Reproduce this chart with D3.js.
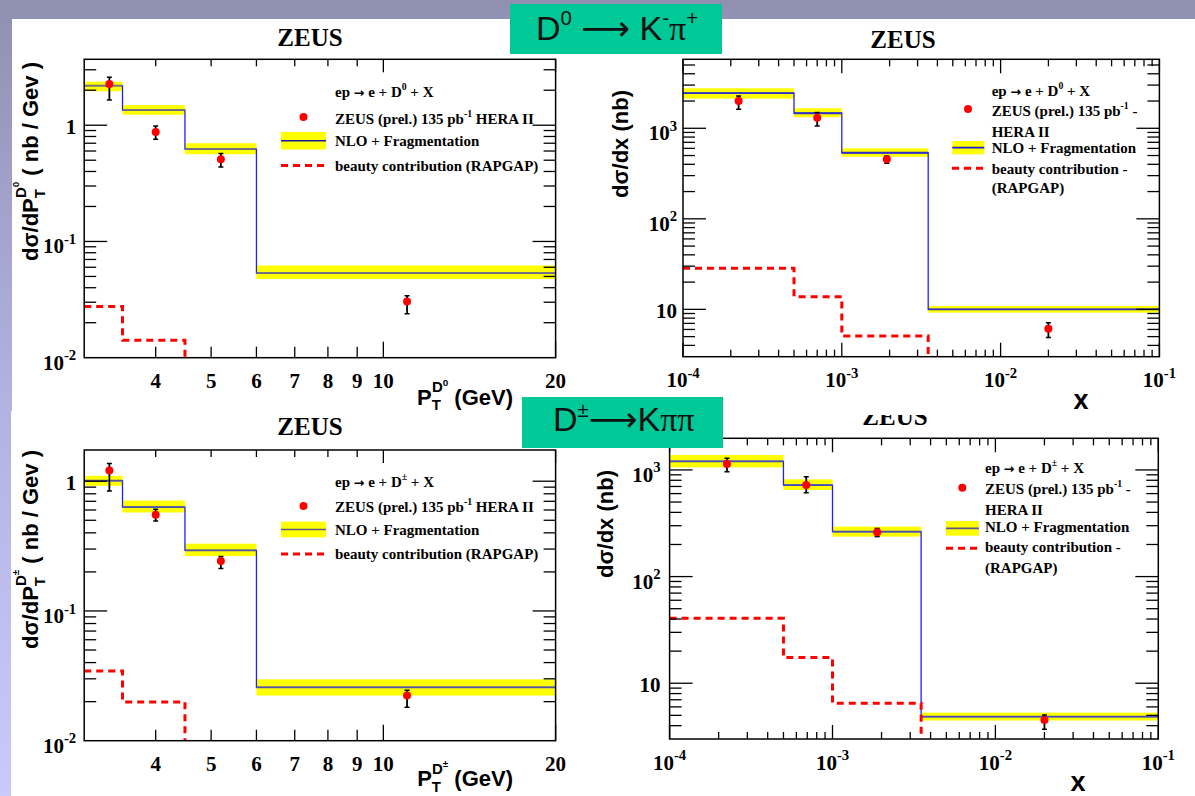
<!DOCTYPE html>
<html>
<head>
<meta charset="utf-8">
<script src="https://cdn.jsdelivr.net/npm/d3@7"></script>
<style>
  html, body { margin: 0; padding: 0; background: #ffffff; }
  svg { display: block; }
</style>
</head>
<body>
<svg id="chart" width="1195" height="796"></svg>
<script>
// ---------------- data ----------------
// bin edges
const ptEdges = [3, 3.5, 4.5, 6, 20];
const xEdges = [1e-4, 5e-4, 1e-3, 3.5e-3, 1e-1];

// tick labels
const ptTickValues = [4, 5, 6, 7, 8, 9, 10, 20];
const xDecadeExponents = [-4, -3, -2, -1];

// D0 -> K- pi+, d sigma / d pT  (nb/GeV)
const d0PtNlo    = [2.19, 1.35, 0.622, 0.0535];
const d0PtNloLo  = [1.96, 1.23, 0.563, 0.0475];
const d0PtNloHi  = [2.37, 1.49, 0.700, 0.0621];
const d0PtBeauty = [0.0276, 0.0141, 0.006, 0.0015];
const d0PtDataX  = [3.32, 4.0, 5.2, 11.0];
const d0PtData   = [2.26, 0.876, 0.510, 0.0305];
const d0PtDataLo = [1.65, 0.758, 0.436, 0.0239];
const d0PtDataHi = [2.59, 0.986, 0.570, 0.0341];

// D0 -> K- pi+, d sigma / dx  (nb)
const d0XNlo    = [2440, 1466, 537, 10.0];
const d0XNloLo  = [2124, 1325, 485, 9.2];
const d0XNloHi  = [2767, 1664, 601, 10.9];
const d0XBeauty = [28.4, 13.8, 5.07, 1.5];
const d0XDataX  = [2.24e-4, 7.0e-4, 1.92e-3, 2.0e-2];
const d0XData   = [2005, 1310, 454, 6.1];
const d0XDataLo = [1620, 1060, 410, 4.9];
const d0XDataHi = [2270, 1490, 494, 7.1];

// D+- -> K pi pi, d sigma / d pT  (nb/GeV)
const dchPtNlo    = [1.01, 0.631, 0.293, 0.0258];
const dchPtNloLo  = [0.922, 0.574, 0.265, 0.0223];
const dchPtNloHi  = [1.10, 0.710, 0.330, 0.0297];
const dchPtBeauty = [0.0345, 0.0199, 0.006, 0.0015];
const dchPtDataX  = [3.32, 4.0, 5.2, 11.0];
const dchPtData   = [1.21, 0.552, 0.243, 0.0223];
const dchPtDataLo = [0.84, 0.493, 0.212, 0.0181];
const dchPtDataHi = [1.37, 0.609, 0.263, 0.0245];

// D+- -> K pi pi, d sigma / dx  (nb)
const dchXNlo    = [1205, 721, 264, 4.87];
const dchXNloLo  = [1057, 649, 237, 4.47];
const dchXNloHi  = [1380, 816, 294, 5.30];
const dchXBeauty = [40.6, 17.4, 6.5, 1.5];
const dchXDataX  = [2.25e-4, 6.9e-4, 1.88e-3, 2.0e-2];
const dchXData   = [1135, 721, 260, 4.53];
const dchXDataLo = [962, 611, 237, 3.71];
const dchXDataHi = [1285, 863, 283, 5.05];

// ---------------- styles ----------------
const SERIF = "'Liberation Serif', 'Times New Roman', serif";
const SANS = "'Liberation Sans', Arial, 'DejaVu Sans', sans-serif";
const ARROWFONT = "'DejaVu Sans', sans-serif";
const BAND = "#ffff00";
const BLUE = "#1f1fff";
const RED = "#ff0000";
const TICK_FONT = 21;
const LEGEND_FONT = 15;

const svg = d3.select("#chart");
const defs = svg.append("defs");

// rich text: parts are {t, s (raise in em), k (size factor), dx, f (font)}
function rich(textSel, parts, size) {
  let cur = 0;
  parts.forEach(p => {
    const target = -(p.s || 0) * size;
    const ts = textSel.append("tspan")
      .attr("dy", target - cur)
      .attr("font-size", size * (p.k || 1))
      .text(p.t);
    if (p.dx) ts.attr("dx", p.dx);
    if (p.f) ts.attr("font-family", p.f);
    cur = target;
  });
  return textSel;
}

// ---------------- background ----------------
const grad = defs.append("linearGradient").attr("id", "bgGrad")
  .attr("x1", 0).attr("y1", 0).attr("x2", 0).attr("y2", 1);
grad.append("stop").attr("offset", 0).attr("stop-color", "#9090b2");
grad.append("stop").attr("offset", 0.5).attr("stop-color", "#b2b2e2");
grad.append("stop").attr("offset", 1).attr("stop-color", "#c9c9fa");
svg.append("rect").attr("width", 1195).attr("height", 796).attr("fill", "url(#bgGrad)");

svg.append("rect").attr("x", 12).attr("y", 19).attr("width", 1183).attr("height", 392).attr("fill", "#fff");
svg.append("rect").attr("x", 11).attr("y", 411).attr("width", 1184).attr("height", 385).attr("fill", "#fff");

// ---------------- panel drawing ----------------
let clipCount = 0;

function drawPanel(p) {
  const g = svg.append("g");
  const xs = d3.scaleLog().domain(p.xDomain).range([p.l, p.r]);
  const ys = d3.scaleLog().domain(p.yDomain).range([p.b, p.t]);

  const clipId = "clip" + (clipCount++);
  defs.append("clipPath").attr("id", clipId).append("rect")
    .attr("x", p.l).attr("y", p.t).attr("width", p.r - p.l).attr("height", p.b - p.t);

  // title
  g.append("text").attr("x", p.titleX).attr("y", p.titleY)
    .attr("text-anchor", "middle").attr("font-family", SERIF).attr("font-weight", "bold")
    .attr("font-size", 25).text("ZEUS");

  const plot = g.append("g").attr("clip-path", `url(#${clipId})`);
  const bins = p.nlo.map((v, i) => ({ i, v, lo: p.nloLo[i], hi: p.nloHi[i] }));

  // uncertainty band of NLO prediction
  plot.selectAll("rect.band").data(bins).join("rect")
    .attr("x", d => xs(p.edges[d.i]))
    .attr("width", d => xs(p.edges[d.i + 1]) - xs(p.edges[d.i]))
    .attr("y", d => ys(d.hi))
    .attr("height", d => ys(d.lo) - ys(d.hi))
    .attr("fill", BAND);

  const step = d3.line().x(d => xs(d[0])).y(d => ys(d[1])).curve(d3.curveStepAfter);
  const stepPts = vals => p.edges.map((e, i) => [e, vals[Math.min(i, vals.length - 1)]]);

  // NLO histogram
  plot.append("path").attr("d", step(stepPts(p.nlo)))
    .attr("fill", "none").attr("stroke", BLUE).attr("stroke-width", 1.3);
  plot.selectAll("line.nloh").data(bins).join("line")
    .attr("x1", d => xs(p.edges[d.i])).attr("x2", d => xs(p.edges[d.i + 1]))
    .attr("y1", d => ys(d.v)).attr("y2", d => ys(d.v))
    .attr("stroke", p.hColor).attr("stroke-width", 1.8);

  // beauty contribution
  plot.append("path").attr("d", step(stepPts(p.beauty)))
    .attr("fill", "none").attr("stroke", RED).attr("stroke-width", 3)
    .attr("stroke-dasharray", "7,5");

  // data points
  const pts = p.dataX.map((x, i) => ({ x, y: p.data[i], lo: p.dataLo[i], hi: p.dataHi[i] }));
  plot.selectAll("line.err").data(pts).join("line")
    .attr("x1", d => xs(d.x)).attr("x2", d => xs(d.x))
    .attr("y1", d => ys(d.hi)).attr("y2", d => ys(d.lo))
    .attr("stroke", "#000").attr("stroke-width", 1.8);
  ["hi", "lo"].forEach(k => {
    plot.selectAll("line.cap" + k).data(pts).join("line")
      .attr("x1", d => xs(d.x) - 2.5).attr("x2", d => xs(d.x) + 2.5)
      .attr("y1", d => ys(d[k])).attr("y2", d => ys(d[k]))
      .attr("stroke", "#000").attr("stroke-width", 1.5);
  });
  plot.selectAll("circle.pt").data(pts).join("circle")
    .attr("cx", d => xs(d.x)).attr("cy", d => ys(d.y)).attr("r", 4).attr("fill", RED);

  // frame
  g.append("rect").attr("x", p.l).attr("y", p.t).attr("width", p.r - p.l).attr("height", p.b - p.t)
    .attr("fill", "none").attr("stroke", "#000").attr("stroke-width", 1.5);

  // y ticks (log decades with 2..9 subdivisions)
  const yt = [];
  const [y0, y1] = p.yDomain;
  for (let d = Math.floor(Math.log10(y0)); d <= Math.ceil(Math.log10(y1)); d++) {
    for (let k = 1; k <= 9; k++) {
      const v = k * Math.pow(10, d);
      if (v > y0 * 1.001 && v < y1 * 0.999) yt.push({ v, major: k === 1, d });
    }
  }
  const tg = g.append("g").attr("stroke", "#000").attr("stroke-width", 1.3);
  yt.forEach(t => {
    const len = t.major ? 23 : 12;
    tg.append("line").attr("x1", p.l).attr("x2", p.l + len).attr("y1", ys(t.v)).attr("y2", ys(t.v));
    tg.append("line").attr("x1", p.r).attr("x2", p.r - len).attr("y1", ys(t.v)).attr("y2", ys(t.v));
  });

  // y tick labels at decades
  const yDec = d3.range(Math.ceil(Math.log10(y0) - 1e-9), Math.floor(Math.log10(y1) + 1e-9) + 1);
  yDec.forEach(d => {
    const v = Math.pow(10, d);
    const plain = d === 0 || d === 1;
    const t = g.append("text").attr("x", p.l - p.yLabelGap)
      .attr("y", ys(v) + (plain ? 8.5 : 12))
      .attr("text-anchor", "end").attr("font-family", SERIF).attr("font-weight", "bold");
    if (plain) rich(t, [{ t: d === 0 ? "1" : "10" }], TICK_FONT);
    else rich(t, [{ t: "10" }, { t: String(d), s: 0.45, k: 0.7 }], TICK_FONT);
  });

  // x ticks and labels
  const xt = [];
  if (p.xKind === "pt") {
    ptTickValues.forEach(v => xt.push({ v, major: v === 10 || v === 20, label: String(v) }));
  } else {
    xDecadeExponents.forEach(d => {
      for (let k = 1; k <= 9; k++) {
        const v = k * Math.pow(10, d);
        if (v >= p.xDomain[0] * 0.999 && v <= p.xDomain[1] * 1.001) xt.push({ v, major: k === 1, exp: k === 1 ? d : null });
      }
    });
  }
  xt.forEach(t => {
    const x = xs(t.v);
    let lb, lt;
    if (p.xKind === "pt") { lb = t.major ? 16 : 11; lt = t.major ? 13 : 7; }
    else { lb = t.major ? 14 : 7; lt = t.major ? 14 : 7; }
    tg.append("line").attr("x1", x).attr("x2", x).attr("y1", p.b).attr("y2", p.b - lb);
    tg.append("line").attr("x1", x).attr("x2", x).attr("y1", p.t).attr("y2", p.t + lt);
    const txt = g.append("text").attr("x", x).attr("y", p.b + 30.5)
      .attr("text-anchor", "middle").attr("font-family", SERIF).attr("font-weight", "bold");
    if (t.label) rich(txt, [{ t: t.label }], TICK_FONT);
    else if (t.exp !== null && t.exp !== undefined) rich(txt, [{ t: "10" }, { t: String(t.exp), s: 0.45, k: 0.7 }], TICK_FONT);
  });

  // axis titles
  const yt2 = g.append("text").attr("transform", `translate(${p.yTitle[0]},${p.yTitle[1]}) rotate(-90)`)
    .attr("text-anchor", "end").attr("font-family", SANS).attr("font-weight", "bold");
  rich(yt2, p.yTitleParts, 22);
  const xt2 = g.append("text").attr("x", p.xTitle[0]).attr("y", p.xTitle[1])
    .attr("text-anchor", p.xTitleAnchor).attr("font-family", SANS).attr("font-weight", "bold");
  rich(xt2, p.xTitleParts, p.xTitleSize);

  // legend
  const L = p.legend;
  const lg = g.append("g").attr("font-family", SERIF).attr("font-weight", "bold");
  L.lines.forEach(line => {
    const t = lg.append("text").attr("x", L.textX).attr("y", line.y);
    rich(t, line.parts, LEGEND_FONT);
  });
  lg.append("circle").attr("cx", L.marker[0]).attr("cy", L.marker[1]).attr("r", 4).attr("fill", RED);
  lg.append("rect").attr("x", L.box[0]).attr("y", L.box[2]).attr("width", L.box[1] - L.box[0])
    .attr("height", L.box[3] - L.box[2]).attr("fill", BAND);
  const by = (L.box[2] + L.box[3]) / 2;
  lg.append("line").attr("x1", L.box[0]).attr("x2", L.box[1]).attr("y1", by).attr("y2", by)
    .attr("stroke", L.boxLine).attr("stroke-width", 1.6);
  lg.append("line").attr("x1", L.dash[0]).attr("x2", L.dash[1]).attr("y1", L.dash[2]).attr("y2", L.dash[2])
    .attr("stroke", RED).attr("stroke-width", 3).attr("stroke-dasharray", "7,5");
}

// text fragments shared by the legends
const epLine = sym => [
  { t: "ep " }, { t: "\u2192", f: ARROWFONT, k: 0.85 }, { t: " e + D" },
  { t: sym, s: 0.45, k: 0.65 }, { t: " + X" }
];
const zeusLine = tail => [{ t: "ZEUS (prel.) 135 pb" }, { t: "-1", s: 0.45, k: 0.65 }, { t: tail }];
const ptYTitle = sym => [
  { t: "d\u03c3/dP" }, { t: "T", s: -0.3, k: 0.68 },
  { t: "D", s: 0.55, k: 0.68, dx: -9 }, { t: sym, s: 0.85, k: 0.45 },
  { t: " ( nb / Gev )" }
];
const ptXTitle = sym => [
  { t: "P" }, { t: "T", s: -0.25, k: 0.68 },
  { t: "D", s: 0.55, k: 0.68, dx: -9 }, { t: sym, s: 0.85, k: 0.45 },
  { t: " (GeV)" }
];

// ---------- bottom row ----------
drawPanel({
  l: 84.2, r: 555.6, t: 450, b: 740.7,
  xDomain: [3, 20], yDomain: [0.01, 1.74], xKind: "pt",
  edges: ptEdges, nlo: dchPtNlo, nloLo: dchPtNloLo, nloHi: dchPtNloHi, beauty: dchPtBeauty,
  dataX: dchPtDataX, data: dchPtData, dataLo: dchPtDataLo, dataHi: dchPtDataHi,
  hColor: "#5656a0", titleX: 310, titleY: 435, yLabelGap: 8,
  yTitle: [38, 450], yTitleParts: ptYTitle("\u00b1"),
  xTitle: [513, 786], xTitleAnchor: "end", xTitleSize: 22, xTitleParts: ptXTitle("\u00b1"),
  legend: {
    textX: 335,
    lines: [
      { y: 487, parts: epLine("\u00b1") },
      { y: 512, parts: zeusLine(" HERA II") },
      { y: 535, parts: [{ t: "NLO + Fragmentation" }] },
      { y: 559, parts: [{ t: "beauty contribution (RAPGAP)" }] }
    ],
    marker: [303.5, 506], box: [281, 326, 521.7, 537.3], boxLine: "#5a5a8a", dash: [281, 326, 554]
  }
});

drawPanel({
  l: 669.6, r: 1158.3, t: 438.3, b: 739,
  xDomain: [1e-4, 1e-1], yDomain: [3, 1980], xKind: "x",
  edges: xEdges, nlo: dchXNlo, nloLo: dchXNloLo, nloHi: dchXNloHi, beauty: dchXBeauty,
  dataX: dchXDataX, data: dchXData, dataLo: dchXDataLo, dataHi: dchXDataHi,
  hColor: "#4a4ab8", titleX: 895, titleY: 425, yLabelGap: 9,
  yTitle: [613, 470], yTitleParts: [{ t: "d\u03c3/dx (nb)" }],
  xTitle: [1078, 791], xTitleAnchor: "middle", xTitleSize: 27, xTitleParts: [{ t: "x" }],
  legend: {
    textX: 985,
    lines: [
      { y: 473, parts: epLine("\u00b1") },
      { y: 493.5, parts: zeusLine(" -") },
      { y: 515, parts: [{ t: "HERA II" }] },
      { y: 532, parts: [{ t: "NLO + Fragmentation" }] },
      { y: 552, parts: [{ t: "beauty contribution -" }] },
      { y: 573, parts: [{ t: "(RAPGAP)" }] }
    ],
    marker: [962.3, 487.7], box: [946, 979, 521, 535.7], boxLine: "#5a5a8a", dash: [946, 979, 548.3]
  }
});

// the upper right picture overlaps the top of the lower right one
svg.append("rect").attr("x", 600).attr("y", 400).attr("width", 595).attr("height", 15).attr("fill", "#fff");

// ---------- top row ----------
drawPanel({
  l: 84.2, r: 555.6, t: 59.3, b: 357.7,
  xDomain: [3, 20], yDomain: [0.01, 3.69], xKind: "pt",
  edges: ptEdges, nlo: d0PtNlo, nloLo: d0PtNloLo, nloHi: d0PtNloHi, beauty: d0PtBeauty,
  dataX: d0PtDataX, data: d0PtData, dataLo: d0PtDataLo, dataHi: d0PtDataHi,
  hColor: "#6e6e82", titleX: 310, titleY: 46, yLabelGap: 8,
  yTitle: [38, 62], yTitleParts: ptYTitle("0"),
  xTitle: [513, 404.5], xTitleAnchor: "end", xTitleSize: 22, xTitleParts: ptXTitle("0"),
  legend: {
    textX: 335,
    lines: [
      { y: 97, parts: epLine("0") },
      { y: 123.5, parts: zeusLine(" HERA II") },
      { y: 145.5, parts: [{ t: "NLO + Fragmentation" }] },
      { y: 170.5, parts: [{ t: "beauty contribution (RAPGAP)" }] }
    ],
    marker: [303.5, 117], box: [281, 326, 132, 149.5], boxLine: "#1a1aa0", dash: [281, 326, 165.5]
  }
});

drawPanel({
  l: 683, r: 1159.4, t: 59.3, b: 356.7,
  xDomain: [1e-4, 1e-1], yDomain: [3, 5780], xKind: "x",
  edges: xEdges, nlo: d0XNlo, nloLo: d0XNloLo, nloHi: d0XNloHi, beauty: d0XBeauty,
  dataX: d0XDataX, data: d0XData, dataLo: d0XDataLo, dataHi: d0XDataHi,
  hColor: "#3030c8", titleX: 903, titleY: 48, yLabelGap: 6,
  yTitle: [628, 90], yTitleParts: [{ t: "d\u03c3/dx (nb)" }],
  xTitle: [1081, 409], xTitleAnchor: "middle", xTitleSize: 27, xTitleParts: [{ t: "x" }],
  legend: {
    textX: 991.7,
    lines: [
      { y: 96, parts: epLine("0") },
      { y: 116, parts: zeusLine(" -") },
      { y: 137, parts: [{ t: "HERA II" }] },
      { y: 152.5, parts: [{ t: "NLO + Fragmentation" }] },
      { y: 173.5, parts: [{ t: "beauty contribution -" }] },
      { y: 192.5, parts: [{ t: "(RAPGAP)" }] }
    ],
    marker: [968, 109], box: [952.3, 984.3, 141, 154.3], boxLine: "#1a1ad0", dash: [952, 984, 168.3]
  }
});

// ---------- decay channel headers ----------
const TEAL = "#00c897";
svg.append("rect").attr("x", 510).attr("y", 4).attr("width", 212).attr("height", 50).attr("fill", TEAL);
rich(svg.append("text").attr("x", 536).attr("y", 40).attr("font-family", SANS).attr("fill", "#111"), [
  { t: "D" }, { t: "0", s: 0.45, k: 0.6 }, { t: " \u27f6 K" }, { t: "-", s: 0.45, k: 0.6 },
  { t: "\u03c0", f: SERIF }, { t: "+", s: 0.45, k: 0.6 }
], 34);

svg.append("rect").attr("x", 522).attr("y", 397).attr("width", 201).attr("height", 51).attr("fill", TEAL);
rich(svg.append("text").attr("x", 553).attr("y", 431).attr("font-family", SANS).attr("fill", "#111"), [
  { t: "D" }, { t: "\u00b1", s: 0.4, k: 0.6 }, { t: "\u27f6K" },
  { t: "\u03c0\u03c0", f: SERIF }
], 34);
</script>
</body>
</html>
